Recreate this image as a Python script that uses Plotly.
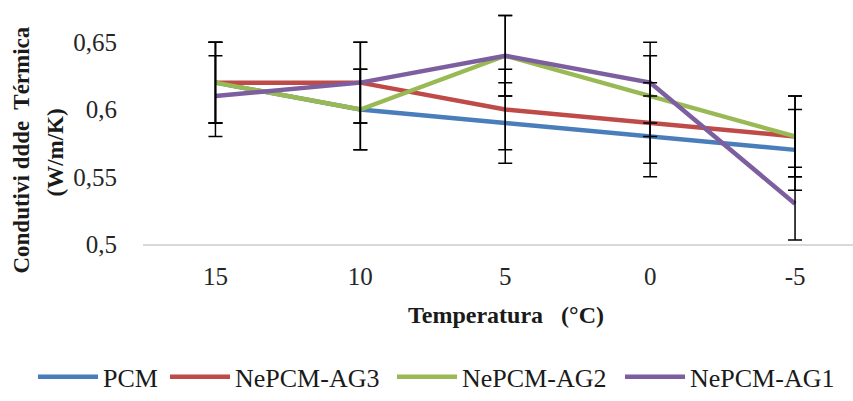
import plotly.graph_objects as go

categories = ["15", "10", "5", "0", "-5"]
pcm = [0.62, 0.60, 0.59, 0.58, 0.57]
ag3 = [0.62, 0.62, 0.60, 0.59, 0.58]
ag2 = [0.62, 0.60, 0.64, 0.61, 0.58]
ag1 = [0.61, 0.62, 0.64, 0.62, 0.53]
err_pcm = [0.03, 0.03, 0.03, 0.03, 0.03]
err_ag3 = [0.03, 0.03, 0.03, 0.03, 0.03]
err_ag2 = [0.03, 0.03, 0.03, 0.03, 0.03]
err_ag1 = [0.03, 0.03, 0.03, 0.03, 0.027]
series_names = ["PCM", "NePCM-AG3", "NePCM-AG2", "NePCM-AG1"]
colors = ["#4A7EBB", "#BE4B48", "#98B954", "#7D5FA0"]
ytick_vals = [0.5, 0.55, 0.6, 0.65]
ytick_text = ["0,5", "0,55", "0,6", "0,65"]

FONT = "Liberation Serif"
W, H = 853, 401
L, T = 143, 0
plot_w = W - L
plot_h = 248
B = H - T - plot_h

values = [pcm, ag3, ag2, ag1]
errs = [err_pcm, err_ag3, err_ag2, err_ag1]
legend_ids = ["legend", "legend2", "legend3", "legend4"]
legend_px = [33, 165, 392, 620]

fig = go.Figure()
for name, vals, col, lg in zip(series_names, values, colors, legend_ids):
    fig.add_trace(go.Scatter(
        x=categories, y=vals, name=name, mode="lines",
        line=dict(color=col, width=4.5), legend=lg,
    ))
for vals, e in zip(values, errs):
    fig.add_trace(go.Scatter(
        x=categories, y=vals, mode="markers", showlegend=False,
        marker=dict(size=1, color="rgba(0,0,0,0)"),
        error_y=dict(type="data", array=e, symmetric=True,
                     color="black", thickness=1.5, width=7),
        hoverinfo="skip",
    ))

layout_legends = {}
for lg, px in zip(legend_ids, legend_px):
    layout_legends[lg] = dict(
        orientation="h", x=(px - L) / plot_w, xanchor="left",
        y=(plot_h - 383) / plot_h, yanchor="middle",
        font=dict(family=FONT, size=26, color="#1a1a1a"),
        bgcolor="rgba(0,0,0,0)", itemwidth=60,
    )

fig.update_layout(
    width=W, height=H,
    margin=dict(l=L, r=0, t=T, b=B, pad=0),
    paper_bgcolor="white", plot_bgcolor="white",
    separators=", ",
    font=dict(family=FONT, size=25, color="#333333"),
    xaxis=dict(
        type="category", range=[-0.5, 4.4],
        showgrid=False, zeroline=False,
        showline=True, linecolor="#d9d9d9", linewidth=1.5,
        ticks="", ticklabelstandoff=9,
        tickfont=dict(family=FONT, size=25, color="#262626"),
    ),
    yaxis=dict(
        range=[0.5, 0.5 + plot_h / 1366.7],
        showgrid=False, zeroline=False, showline=False,
        tickvals=ytick_vals, ticktext=ytick_text,
        ticks="", ticklabelstandoff=25,
        tickfont=dict(family=FONT, size=25, color="#262626"),
    ),
    annotations=[
        dict(text="<b>Temperatura   (°C)</b>", xref="paper", yref="paper",
             x=(506 - L) / plot_w, y=(plot_h - 320) / plot_h,
             xanchor="center", yanchor="middle", showarrow=False,
             font=dict(family=FONT, size=24, color="#1a1a1a")),
        dict(text="<b>Condutivi ddde  Térmica</b>", xref="paper", yref="paper",
             x=(22 - L) / plot_w, y=(plot_h - 153) / plot_h, textangle=-90,
             xanchor="center", yanchor="middle", showarrow=False,
             font=dict(family=FONT, size=23, color="#1a1a1a")),
        dict(text="<b>(W/m/K)</b>", xref="paper", yref="paper",
             x=(55 - L) / plot_w, y=(plot_h - 155) / plot_h, textangle=-90,
             xanchor="center", yanchor="middle", showarrow=False,
             font=dict(family=FONT, size=23, color="#1a1a1a")),
    ],
    **layout_legends,
)

fig.write_html("out.html")
